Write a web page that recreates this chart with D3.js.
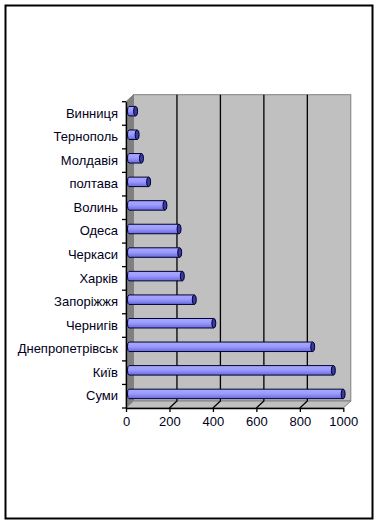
<!DOCTYPE html>
<html><head><meta charset="utf-8">
<script src="https://cdn.jsdelivr.net/npm/d3@7"></script>
<style>html,body{margin:0;padding:0;background:#fff;}svg{display:block;}</style>
</head><body>
<svg id="c" width="381" height="525"></svg>
<script>
const categories = ["Винниця","Тернополь","Молдавія","полтава","Волинь","Одеса","Черкаси","Харків","Запоріжжя","Чернигів","Днепропетрівськ","Київ","Суми"];
const values = [35, 42, 62, 95, 170, 235, 238, 250, 305, 395, 850, 945, 990];
const xTicks = [0, 200, 400, 600, 800, 1000];

const svg = d3.select("#c");
const font = "'Liberation Sans', Arial, sans-serif";
svg.append("rect").attr("x",5.5).attr("y",5.5).attr("width",367).attr("height",513)
  .attr("fill","#fff").attr("stroke","#000").attr("stroke-width",2);

const x = d3.scaleLinear().domain([0,1000]).range([126, 343.3]);
const y = d3.scaleBand().domain(categories).range([101.7, 408]);
const DX = 7.5, DY = -7;
const x0 = x(0), x1 = x(1000), yTop = 101.7, yBot = 408;

const defs = svg.append("defs");
const g = defs.append("linearGradient").attr("id","barg").attr("x1",0).attr("y1",0).attr("x2",0).attr("y2",1);
g.append("stop").attr("offset","0%").attr("stop-color","#a8a8ff");
g.append("stop").attr("offset","45%").attr("stop-color","#9c9cff");
g.append("stop").attr("offset","100%").attr("stop-color","#6a6ad8");

// walls
svg.append("rect").attr("x",x0+DX).attr("y",yTop+DY).attr("width",x1-x0).attr("height",yBot-yTop)
  .attr("fill","#c0c0c0").attr("stroke","#808080").attr("stroke-width",1);
svg.append("path").attr("d",`M${x0},${yTop}L${x0+DX},${yTop+DY}L${x0+DX},${yBot+DY}L${x0},${yBot}Z`)
  .attr("fill","#808080").attr("stroke","#808080");
svg.append("path").attr("d",`M${x0+DX},${yBot+DY}L${x1+DX},${yBot+DY}L${x1},${yBot}L${x0},${yBot}Z`)
  .attr("fill","#c0c0c0").attr("stroke","#808080").attr("stroke-width",1);

// gridlines
xTicks.filter(t=>t>0 && t<1000).forEach(t=>{
  const xx = x(t);
  svg.append("path").attr("d",`M${xx+DX},${yTop+DY}L${xx+DX},${yBot+DY}L${xx},${yBot}`)
    .attr("fill","none").attr("stroke","#000").attr("stroke-width",1.3);
});

// bars
const bh = 9.5;
categories.forEach((c,i)=>{
  const cy = y(c) + y.bandwidth()/2 - 2.3;
  const xs = x(0) + 1.5, xe = x(values[i]) + 2;
  const top = cy - bh/2, bot = cy + bh/2;
  svg.append("path")
    .attr("d",`M${xe},${top}L${xs+1.5},${top}A1.5,${bh/2} 0 0 0 ${xs+1.5},${bot}L${xe},${bot}Z`)
    .attr("fill","url(#barg)").attr("stroke","#000033").attr("stroke-width",1);
  svg.append("ellipse").attr("cx",xe).attr("cy",cy).attr("rx",2).attr("ry",bh/2)
    .attr("fill","#3a3aa0").attr("stroke","#000033").attr("stroke-width",1);
});

// axes
const ax = svg.append("g").attr("transform",`translate(0,${yBot})`)
  .call(d3.axisBottom(x).tickValues(xTicks).tickFormat(d3.format("d")).tickSize(4).tickSizeOuter(0).tickPadding(5));
ax.select(".domain").attr("stroke","#000").attr("stroke-width",1.3);
ax.selectAll(".tick line").attr("stroke","#000").attr("stroke-width",1.3);
ax.selectAll("text").attr("font-family",font).attr("font-size",13).attr("fill","#000020");

const ay = svg.append("g").attr("transform",`translate(${x0},0)`)
  .call(d3.axisLeft(y).tickSize(0).tickPadding(8));
ay.select(".domain").attr("stroke","#000").attr("stroke-width",1.3);
ay.selectAll("text").attr("font-family",font).attr("font-size",13).attr("fill","#000020");
const sep = d3.range(categories.length+1).map(i=>yTop + i*y.step());
svg.append("g").selectAll("line").data(sep).join("line")
  .attr("x1",x0-4).attr("x2",x0).attr("y1",d=>d).attr("y2",d=>d)
  .attr("stroke","#000").attr("stroke-width",1.3);
</script>
</body></html>
